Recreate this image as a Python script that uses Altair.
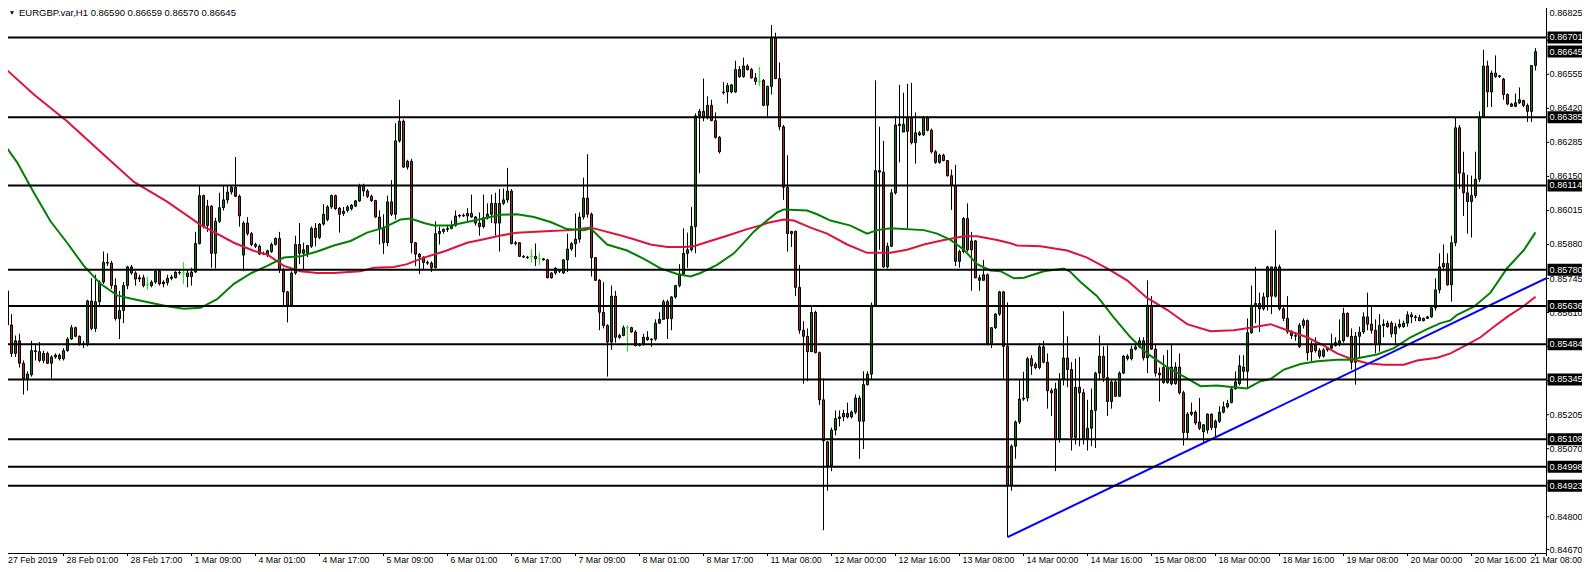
import altair as alt
import pandas as pd

# ---- data: hourly EURGBP candles, values in points (0.00001) above 0.80000 ----
open_pts = [
5788, 5696, 5561, 5448, 5498, 5409, 5349, 5363, 5459, 5455,
5420, 5448, 5409, 5434, 5441, 5427, 5459, 5505, 5550, 5516,
5486, 5483, 5656, 5547, 5653, 5731, 5809, 5806, 5717, 5586,
5618, 5717, 5791, 5767, 5743, 5748, 5721, 5717, 5731, 5774,
5724, 5729, 5746, 5748, 5767, 5767, 5767, 5753, 5771, 5884,
6074, 5955, 6032, 5845, 5972, 6026, 6057, 6088, 6107, 6071,
5838, 5965, 5923, 5880, 5873, 5842, 5838, 5852, 5880, 5904,
5781, 5692, 5639, 5767, 5880, 5845, 5845, 5873, 5944, 5908,
5961, 5979, 6029, 6074, 6024, 6003, 6015, 6022, 6032, 6053,
6111, 6092, 6071, 6054, 5989, 5944, 5887, 6049, 6000, 6291,
6369, 6187, 6210, 5887, 5842, 5830, 5809, 5806, 5788, 5923,
5932, 5940, 5944, 5955, 5993, 5996, 5993, 6003, 5989, 5965,
5951, 5986, 6000, 6043, 5965, 6043, 6057, 6092, 5884, 5887,
5833, 5830, 5833, 5833, 5823, 5823, 5819, 5767, 5767, 5776,
5767, 5819, 5862, 5883, 5901, 5989, 6064, 6000, 5828, 5738,
5611, 5559, 5493, 5675, 5512, 5519, 5550, 5550, 5533, 5479,
5483, 5512, 5502, 5505, 5568, 5583, 5653, 5586, 5672, 5717,
5763, 5845, 5859, 5951, 6390, 6408, 6383, 6432, 6371, 6305,
6482, 6485, 6485, 6485, 6574, 6546, 6588, 6574, 6541, 6527,
6531, 6432, 6507, 6701, 6538, 6347, 6107, 5923, 5932, 5710,
5540, 5516, 5455, 5611, 5451, 5264, 5097, 5002, 5144, 5190,
5196, 5210, 5196, 5215, 5271, 5179, 5324, 5366, 5639, 6173,
6167, 5791, 5873, 6085, 6352, 6326, 6329, 6383, 6284, 6323,
6315, 6383, 6333, 6248, 6206, 6234, 6213, 6153, 6114, 5813,
5852, 5983, 5859, 5894, 5748, 5738, 5760, 5483, 5550, 5604,
5692, 5476, 4924, 5080, 5176, 5267, 5271, 5427, 5406, 5392,
5474, 5413, 5300, 5307, 5108, 5346, 5430, 5384, 5115, 5314,
5292, 5111, 5151, 5222, 5370, 5437, 5352, 5257, 5335, 5278,
5370, 5427, 5427, 5465, 5474, 5498, 5431, 5639, 5465, 5370,
5392, 5332, 5394, 5328, 5394, 5292, 5134, 5207, 5215, 5176,
5137, 5144, 5207, 5154, 5179, 5215, 5236, 5253, 5307, 5328,
5394, 5377, 5530, 5639, 5646, 5625, 5672, 5791, 5675, 5791,
5625, 5587, 5533, 5519, 5476, 5559, 5578, 5479, 5483, 5459,
5437, 5462, 5469, 5479, 5488, 5498, 5607, 5516, 5413, 5516,
5533, 5593, 5564, 5540, 5483, 5559, 5554, 5568, 5526, 5554,
5554, 5568, 5601, 5593, 5590, 5578, 5587, 5593, 5629, 5700,
5791, 5805, 5720, 5887, 6343, 6163, 6085, 6050, 6074, 6139,
6386, 6588, 6485, 6560, 6546, 6536, 6475, 6437, 6428, 6442,
6451, 6432, 6408, 6590]

high_pts = [
5833, 5717, 5604, 5519, 5526, 5420, 5377, 5498, 5483, 5493,
5459, 5455, 5441, 5448, 5448, 5469, 5512, 5561, 5554, 5519,
5498, 5661, 5746, 5760, 5738, 5852, 5845, 5816, 5746, 5696,
5731, 5795, 5799, 5774, 5760, 5760, 5753, 5738, 5781, 5781,
5738, 5760, 5760, 5774, 5781, 5809, 5781, 5788, 5930, 6114,
6078, 6057, 6036, 5986, 6085, 6114, 6114, 6114, 6227, 6078,
5972, 5989, 5930, 5887, 5880, 5852, 5859, 5887, 5908, 5930,
5788, 5696, 5774, 5915, 5965, 5887, 5876, 5951, 5965, 5965,
6040, 6036, 6078, 6078, 6029, 6029, 6036, 6040, 6057, 6121,
6121, 6100, 6078, 6057, 6015, 6000, 6074, 6135, 6361, 6454,
6376, 6216, 6220, 5890, 5845, 5833, 5816, 5813, 5972, 5951,
5944, 5958, 5975, 6015, 6000, 6003, 6024, 6078, 5993, 6007,
6078, 6043, 6078, 6085, 6100, 6102, 6184, 6100, 5894, 5890,
5838, 5835, 5862, 5884, 5847, 5826, 5823, 5770, 5790, 5781,
5822, 5923, 5890, 6003, 6007, 6145, 6238, 6007, 5830, 5743,
5731, 5564, 5717, 5696, 5526, 5559, 5559, 5554, 5540, 5488,
5526, 5536, 5508, 5583, 5611, 5661, 5661, 5675, 5720, 5802,
5944, 5927, 6029, 6400, 6418, 6538, 6468, 6454, 6404, 6310,
6524, 6521, 6517, 6609, 6588, 6621, 6595, 6580, 6560, 6584,
6536, 6510, 6751, 6720, 6602, 6354, 6234, 5930, 5935, 5799,
5576, 5547, 5632, 5618, 5455, 5349, 5101, 5154, 5222, 5222,
5224, 5253, 5222, 5285, 5281, 5377, 5377, 5650, 6531, 6347,
6291, 5887, 6100, 6390, 6513, 6482, 6517, 6521, 6404, 6330,
6390, 6390, 6340, 6255, 6240, 6240, 6213, 6177, 6196, 5859,
5989, 6043, 5930, 5898, 5760, 5819, 5765, 5552, 5607, 5696,
5696, 5650, 5087, 5182, 5342, 5375, 5434, 5441, 5413, 5488,
5498, 5448, 5310, 5332, 5370, 5615, 5516, 5413, 5427, 5434,
5307, 5264, 5309, 5375, 5519, 5476, 5479, 5342, 5342, 5377,
5441, 5445, 5479, 5483, 5512, 5512, 5738, 5675, 5483, 5392,
5441, 5462, 5483, 5413, 5448, 5300, 5215, 5253, 5222, 5271,
5168, 5210, 5210, 5186, 5239, 5257, 5264, 5314, 5377, 5441,
5441, 5587, 5717, 5791, 5689, 5689, 5795, 5791, 5937, 5800,
5639, 5675, 5540, 5526, 5568, 5587, 5583, 5498, 5512, 5469,
5469, 5472, 5526, 5512, 5583, 5629, 5611, 5547, 5533, 5554,
5611, 5689, 5632, 5583, 5604, 5583, 5578, 5576, 5568, 5583,
5578, 5615, 5611, 5601, 5601, 5590, 5597, 5639, 5746, 5845,
5880, 5845, 5915, 6383, 6354, 6248, 6156, 6153, 6248, 6408,
6652, 6609, 6570, 6630, 6553, 6541, 6479, 6442, 6479, 6503,
6454, 6439, 6591, 6659]

low_pts = [
5696, 5559, 5434, 5434, 5392, 5285, 5300, 5356, 5420, 5413,
5409, 5406, 5349, 5427, 5420, 5420, 5455, 5502, 5512, 5479,
5469, 5476, 5540, 5533, 5632, 5724, 5795, 5703, 5578, 5505,
5568, 5703, 5760, 5717, 5731, 5710, 5700, 5710, 5724, 5717,
5710, 5717, 5738, 5746, 5760, 5724, 5710, 5717, 5767, 5880,
5944, 5930, 5788, 5785, 5965, 6015, 6043, 6078, 6068, 5951,
5774, 5915, 5873, 5866, 5838, 5838, 5830, 5847, 5876, 5767,
5635, 5571, 5632, 5760, 5802, 5781, 5830, 5866, 5873, 5901,
5955, 5972, 6022, 6017, 5927, 5993, 6007, 6015, 6029, 6049,
6071, 6064, 6049, 5986, 5880, 5842, 5873, 5993, 5979, 6284,
6184, 6177, 5845, 5795, 5763, 5781, 5799, 5771, 5785, 5880,
5923, 5930, 5940, 5951, 5986, 5989, 5972, 5986, 5955, 5915,
5944, 5979, 5965, 5915, 5852, 6036, 6046, 5880, 5876, 5830,
5826, 5823, 5809, 5795, 5799, 5816, 5746, 5745, 5760, 5767,
5763, 5771, 5855, 5830, 5887, 5979, 5986, 5753, 5736, 5540,
5547, 5356, 5462, 5491, 5505, 5516, 5455, 5530, 5476, 5476,
5479, 5498, 5474, 5498, 5564, 5583, 5505, 5540, 5665, 5710,
5757, 5788, 5852, 5845, 6163, 6369, 6376, 6369, 6300, 6241,
6475, 6439, 6480, 6482, 6541, 6541, 6570, 6538, 6513, 6510,
6428, 6386, 6475, 6536, 6333, 6057, 5852, 5870, 5675, 5526,
5328, 5338, 5455, 5448, 5243, 4747, 4903, 4981, 5123, 5158,
5179, 5190, 5190, 5207, 5030, 5069, 5321, 5346, 5632, 5859,
5788, 5785, 5870, 6078, 6206, 6326, 5944, 6277, 6201, 6310,
6310, 6329, 6241, 6200, 6200, 6210, 6149, 6017, 5795, 5788,
5845, 5852, 5696, 5746, 5696, 5736, 5480, 5469, 5545, 5597,
5349, 4719, 4903, 5030, 5168, 5260, 5257, 5363, 5385, 5385,
5409, 5229, 5200, 4981, 5094, 5321, 5314, 5063, 5087, 5080,
5087, 5063, 5080, 5073, 5342, 5335, 5200, 5229, 5275, 5275,
5366, 5420, 5420, 5460, 5469, 5420, 5370, 5462, 5356, 5257,
5328, 5328, 5321, 5324, 5285, 5083, 5111, 5200, 5165, 5144,
5094, 5130, 5144, 5115, 5172, 5210, 5230, 5250, 5304, 5321,
5342, 5309, 5526, 5568, 5533, 5618, 5618, 5604, 5670, 5618,
5576, 5526, 5505, 5498, 5469, 5547, 5420, 5417, 5451, 5427,
5431, 5455, 5465, 5475, 5476, 5491, 5512, 5384, 5324, 5434,
5526, 5540, 5526, 5448, 5455, 5512, 5550, 5512, 5488, 5547,
5550, 5554, 5568, 5576, 5576, 5575, 5585, 5590, 5618, 5686,
5774, 5717, 5653, 5873, 6100, 5993, 5923, 5908, 6064, 6128,
6383, 6425, 6425, 6541, 6541, 6454, 6432, 6425, 6425, 6437,
6425, 6366, 6366, 6570]

close_pts = [
5700, 5561, 5448, 5498, 5409, 5349, 5366, 5459, 5455, 5420,
5448, 5409, 5434, 5441, 5427, 5459, 5505, 5550, 5516, 5486,
5483, 5656, 5547, 5653, 5731, 5809, 5806, 5717, 5586, 5618,
5717, 5791, 5767, 5743, 5748, 5717, 5721, 5731, 5774, 5724,
5731, 5746, 5751, 5770, 5769, 5767, 5753, 5771, 5884, 6074,
5955, 6032, 5845, 5972, 6026, 6057, 6088, 6107, 6071, 5993,
5965, 5923, 5880, 5873, 5842, 5845, 5855, 5880, 5904, 5781,
5692, 5639, 5767, 5880, 5845, 5859, 5876, 5944, 5908, 5961,
6000, 6029, 6074, 6022, 6000, 6012, 6029, 6036, 6053, 6111,
6092, 6071, 6054, 5989, 5944, 5887, 6049, 6000, 6291, 6369,
6187, 6210, 5887, 5842, 5830, 5809, 5806, 5788, 5923, 5932,
5940, 5944, 5955, 5993, 5996, 5993, 6003, 5989, 5965, 5951,
5986, 6000, 6043, 5965, 6043, 6057, 6092, 5884, 5887, 5833,
5830, 5828, 5833, 5823, 5823, 5819, 5748, 5748, 5786, 5774,
5819, 5862, 5883, 5901, 5989, 6064, 6000, 5828, 5738, 5611,
5559, 5493, 5675, 5512, 5519, 5550, 5550, 5533, 5479, 5483,
5512, 5502, 5505, 5568, 5583, 5653, 5586, 5672, 5717, 5763,
5845, 5859, 5951, 6390, 6408, 6383, 6432, 6371, 6305, 6248,
6485, 6510, 6513, 6574, 6546, 6588, 6574, 6541, 6527, 6527,
6432, 6507, 6701, 6538, 6347, 6107, 5923, 5932, 5710, 5540,
5516, 5455, 5611, 5451, 5264, 5101, 5002, 5144, 5190, 5196,
5210, 5196, 5215, 5271, 5179, 5324, 5366, 5639, 6173, 6167,
5791, 5873, 6085, 6354, 6357, 6357, 6383, 6284, 6323, 6315,
6383, 6333, 6248, 6206, 6234, 6213, 6153, 6114, 5813, 5852,
5983, 5859, 5894, 5748, 5738, 5760, 5483, 5550, 5604, 5692,
5476, 4924, 5080, 5176, 5267, 5271, 5427, 5399, 5392, 5474,
5413, 5300, 5292, 5108, 5346, 5430, 5384, 5115, 5314, 5292,
5111, 5151, 5222, 5370, 5437, 5352, 5257, 5335, 5278, 5370,
5437, 5437, 5465, 5474, 5498, 5431, 5639, 5465, 5370, 5363,
5332, 5394, 5328, 5394, 5292, 5134, 5207, 5215, 5172, 5151,
5165, 5207, 5154, 5179, 5215, 5236, 5250, 5307, 5335, 5399,
5377, 5530, 5639, 5646, 5625, 5672, 5791, 5675, 5791, 5625,
5587, 5533, 5519, 5516, 5559, 5578, 5451, 5455, 5459, 5437,
5462, 5469, 5479, 5491, 5498, 5607, 5516, 5413, 5516, 5533,
5593, 5564, 5540, 5483, 5559, 5564, 5568, 5526, 5554, 5564,
5568, 5601, 5593, 5590, 5578, 5587, 5593, 5629, 5700, 5791,
5805, 5720, 5887, 6343, 6163, 6085, 6050, 6074, 6139, 6386,
6588, 6485, 6560, 6546, 6549, 6475, 6437, 6428, 6442, 6454,
6432, 6408, 6590, 6645]

# moving averages (bar position, points)
red_ma_bar = [-0.75, 7.6, 15.9, 24.25, 32.6, 40.9, 49.25, 57.6, 62.5, 66, 70.1, 74.25, 78.4, 82.6,
              89.25, 92.6, 97.6, 100.9, 105.1, 110.1, 115.9, 120.1, 124, 128.4, 136.75, 141.75, 146.75,
              149.25, 153.4, 157.6, 161.75, 165.9, 170.1, 172.6, 175.9, 180.9, 185.9, 189.25, 190.9, 195.1,
              197.6, 201.75, 205.9, 210.9, 215.9, 221.75, 225.9, 230.1, 235.1, 240.1, 243.4, 248.4, 251.75,
              253.4, 259.25, 265.9, 270.9, 275.9, 280.9, 285.9, 290.9, 295.9, 301.75, 307.6, 311.75, 316.75,
              320.9, 325.9, 330.1, 333.4, 336.75, 340.9, 345.1, 350.1, 353.4, 358.4, 361.75, 365.9, 369.25,
              372.6, 376, 380, 383]
red_ma_pts = [6595, 6475, 6369, 6248, 6128, 6050, 5958, 5887, 5855, 5840, 5795, 5774, 5767, 5767,
              5774, 5788, 5791, 5802, 5828, 5852, 5887, 5901, 5915, 5927, 5934, 5937, 5947,
              5937, 5920, 5901, 5880, 5870, 5870, 5873, 5890, 5915, 5941, 5955, 5965, 5979,
              5975, 5947, 5923, 5880, 5847, 5847, 5859, 5880, 5898, 5913, 5913, 5898, 5885,
              5876, 5873, 5856, 5828, 5785, 5738, 5668, 5621, 5564, 5536, 5540, 5550, 5564,
              5540, 5512, 5479, 5448, 5427, 5409, 5403, 5403, 5420, 5431, 5448, 5483, 5512,
              5554, 5594, 5635, 5673]
green_ma_bar = [-0.75, 3.4, 7.6, 11.75, 15.9, 20.1, 24.25, 28.4, 32.6, 36.75,
                40.9, 45.1, 49.25, 53.4, 57.6, 62, 65.9, 70.1, 74.25, 78.4,
                82.6, 86.75, 90.9, 95.1, 99.25, 101.75, 105.1, 107.6, 111.75, 115.9,
                120.1, 124.25, 128.4, 132.6, 136.75, 140.9, 145.1, 146.75, 150.9, 155.9,
                160.1, 164.25, 168.4, 171.75, 174.25, 178.4, 182.6, 185.9, 187.5, 190.1,
                193.4, 195.1, 200.9, 203.4, 206.75, 211.75, 215.9, 218.4, 221.75, 230.1,
                233.4, 236.75, 240.1, 243.4, 246.75, 249.25, 252.6, 255.1, 260.1, 265.1,
                266.75, 269.25, 273.4, 277.6, 281.75, 285.9, 290.9, 295.9, 299.25, 303.4,
                307.6, 310.9, 314.25, 316.75, 320.1, 324.25, 328.4, 333.4, 336.75, 340.1,
                343.4, 347.6, 351.75, 355.9, 359.25, 361.75, 363.4, 367.6, 371.75, 375.9,
                380.1, 383]
green_ma_pts = [6298, 6206, 6085, 5972, 5887, 5795, 5724, 5678, 5663, 5649,
                5635, 5625, 5629, 5663, 5724, 5767, 5795, 5828, 5833, 5852,
                5876, 5894, 5927, 5947, 5979, 5983, 5965, 5955, 5955, 5969,
                5983, 5998, 6000, 5989, 5969, 5941, 5937, 5944, 5880, 5856,
                5823, 5785, 5763, 5753, 5767, 5799, 5845, 5901, 5930, 5965,
                6007, 6019, 6015, 6000, 5975, 5955, 5923, 5937, 5944, 5937,
                5923, 5898, 5859, 5802, 5777, 5774, 5746, 5748, 5774, 5785,
                5771, 5731, 5675, 5590, 5512, 5448, 5394, 5349, 5318, 5321,
                5314, 5309, 5338, 5346, 5384, 5406, 5417, 5423, 5423, 5434,
                5444, 5469, 5512, 5544, 5568, 5579, 5601, 5633, 5689, 5786,
                5858, 5928]

trend_bar = [251, 385.75]
trend_price = [0.84719, 0.85747]

levels = [0.86701, 0.86385, 0.86114, 0.85780, 0.85636, 0.85484, 0.85345, 0.85108, 0.84998, 0.84923]
current_price = 0.86645
axis_prices = [0.86825, 0.86690, 0.86555, 0.86420, 0.86285, 0.86150, 0.86015, 0.85880, 0.85745,
               0.85610, 0.85475, 0.85340, 0.85205, 0.85070, 0.84935, 0.84800, 0.84670]

time_labels = ["27 Feb 2019", "28 Feb 01:00", "28 Feb 17:00", "1 Mar 09:00", "4 Mar 01:00",
               "4 Mar 17:00", "5 Mar 09:00", "6 Mar 01:00", "6 Mar 17:00", "7 Mar 09:00",
               "8 Mar 01:00", "8 Mar 17:00", "11 Mar 08:00", "12 Mar 00:00", "12 Mar 16:00",
               "13 Mar 08:00", "14 Mar 00:00", "14 Mar 16:00", "15 Mar 08:00", "18 Mar 00:00",
               "18 Mar 16:00", "19 Mar 08:00", "20 Mar 00:00", "20 Mar 16:00", "21 Mar 08:00"]
time_bars = [-1, 15, 31, 47, 63, 79, 95, 111, 127, 143, 159, 175, 191, 207, 223,
             239, 255, 271, 287, 303, 319, 335, 351, 367, 383]

symbol = "EURGBP.var,H1"

# ---- build tables ----
def price(v):
    return round(0.8 + v / 100000.0, 5)

n = min(len(open_pts), len(high_pts), len(low_pts), len(close_pts))
c = pd.DataFrame({
    "bar": list(range(n)),
    "open": [price(v) for v in open_pts[:n]],
    "high": [price(v) for v in high_pts[:n]],
    "low": [price(v) for v in low_pts[:n]],
    "close": [price(v) for v in close_pts[:n]],
})
c["top"] = c[["open", "close"]].max(axis=1)
c["bot"] = c[["open", "close"]].min(axis=1)
c["whi"] = c[["high", "top"]].max(axis=1)
c["wlo"] = c[["low", "bot"]].min(axis=1)
c["kind"] = ["up" if cl > op else ("down" if cl < op else "doji") for op, cl in zip(c["open"], c["close"])]
c["bl"] = c["bar"] - 0.375
c["br"] = c["bar"] + 0.375

bodies = c[c["kind"] != "doji"]
dojis = c[c["kind"] == "doji"]

red_df = pd.DataFrame({"bar": red_ma_bar, "p": [price(v) for v in red_ma_pts]})
green_df = pd.DataFrame({"bar": green_ma_bar, "p": [price(v) for v in green_ma_pts]})
trend_df = pd.DataFrame({"bar": trend_bar, "p": trend_price})
lev_df = pd.DataFrame({"p": levels + [current_price],
                       "t": [f"{v:.5f}" for v in levels + [current_price]]})
ax_df = pd.DataFrame({"p": axis_prices, "t": [f"{v:.5f}" for v in axis_prices]})
time_df = pd.DataFrame({"bar": time_bars, "t": time_labels})
one = pd.DataFrame({"a": [0]})
hdr = pd.DataFrame({"t": [f"{symbol}  {price(open_pts[-1]):.5f} {price(high_pts[-1]):.5f} "
                          f"{price(low_pts[-1]):.5f} {price(close_pts[-1]):.5f}"]})

# ---- scales: plot area sits at page x 8..1546, y 8..553 ----
W, H = 1538, 545
PAD_R, PAD_B = 36, 11
xs = alt.Scale(domain=[1.125, 385.625], nice=False, zero=False, padding=0)
ys = alt.Scale(domain=[0.846564, 0.86818], nice=False, zero=False, padding=0)
X = lambda f: alt.X(f, type="quantitative", scale=xs, axis=None)
Y = lambda f: alt.Y(f, type="quantitative", scale=ys, axis=None)
FONT = "Liberation Sans"

wicks = alt.Chart(c).mark_rule(strokeWidth=1, clip=True).encode(
    x=X("bar"), y=Y("wlo"), y2="whi:Q",
    color=alt.Color("kind:N", scale=alt.Scale(domain=["up", "down", "doji"],
                                               range=["#000000", "#000000", "#00FF00"]), legend=None))
body = alt.Chart(bodies).mark_bar(size=2, stroke="#000000", strokeWidth=1, clip=True).encode(
    x=X("bar"), y=Y("top"), y2="bot:Q",
    fill=alt.Fill("kind:N", scale=alt.Scale(domain=["up", "down"], range=["#008000", "#A52A2A"]), legend=None))
doji_l = alt.Chart(dojis).mark_rule(strokeWidth=1, color="#00FF00", clip=True).encode(
    x=X("bl"), x2="br:Q", y=Y("open"))

red_line = alt.Chart(red_df).mark_line(color="#DC143C", strokeWidth=2, clip=True).encode(x=X("bar"), y=Y("p"))
green_line = alt.Chart(green_df).mark_line(color="#008000", strokeWidth=2, clip=True).encode(x=X("bar"), y=Y("p"))
trend_line = alt.Chart(trend_df).mark_line(color="#0000FF", strokeWidth=2, clip=True).encode(x=X("bar"), y=Y("p"))

level_lines = alt.Chart(lev_df.iloc[:-1]).mark_rule(color="#000000", strokeWidth=2).encode(
    y=Y("p"), x=alt.value(0), x2=alt.value(W))

right_border = alt.Chart(one).mark_rule(color="#000000", strokeWidth=1).encode(
    x=alt.value(W + 0.5), y=alt.value(0), y2=alt.value(H + 3))
bottom_border = alt.Chart(one).mark_rule(color="#000000", strokeWidth=1).encode(
    y=alt.value(H + 0.5), x=alt.value(0), x2=alt.value(W + 0.5))

ax_ticks = alt.Chart(ax_df).mark_rule(color="#000000", strokeWidth=1).encode(
    y=Y("p"), x=alt.value(W), x2=alt.value(W + 3))
# the topmost scale label is nudged down so that it stays inside the picture
ax_text = alt.Chart(ax_df.iloc[1:]).mark_text(align="left", baseline="middle", font=FONT, fontSize=9.2,
                                              color="#000000").encode(y=Y("p"), x=alt.value(W + 3.5), text="t:N")
ax_top = alt.Chart(ax_df.iloc[:1]).mark_text(align="left", baseline="middle", font=FONT, fontSize=9.2,
                                             color="#000000").encode(y=alt.value(5), x=alt.value(W + 3.5), text="t:N")
boxes = alt.Chart(lev_df).mark_rect(color="#000000", yOffset=-6, y2Offset=6).encode(
    y=Y("p"), y2="p:Q", x=alt.value(W + 1.5), x2=alt.value(W + PAD_R))
box_text = alt.Chart(lev_df).mark_text(align="left", baseline="middle", font=FONT, fontSize=9.2,
                                       color="#FFFFFF").encode(y=Y("p"), x=alt.value(W + 3.5), text="t:N")

t_ticks = alt.Chart(time_df).mark_rule(color="#000000", strokeWidth=1).encode(
    x=X("bar"), y=alt.value(H), y2=alt.value(H + 3))
TY = H + 7
t_mid = alt.Chart(time_df.iloc[1:-1]).mark_text(align="left", baseline="middle", font=FONT, fontSize=8.8,
                                                dx=3, color="#000000").encode(x=X("bar"), y=alt.value(TY), text="t:N")
t_first = alt.Chart(time_df.iloc[:1]).mark_text(align="left", baseline="middle", font=FONT, fontSize=8.8,
                                                color="#000000").encode(x=alt.value(0), y=alt.value(TY), text="t:N")
t_last = alt.Chart(time_df.iloc[-1:]).mark_text(align="right", baseline="middle", font=FONT, fontSize=8.8,
                                                color="#000000").encode(x=alt.value(W + PAD_R), y=alt.value(TY), text="t:N")

hdr_tri = alt.Chart(one).mark_point(shape="triangle-down", filled=True, size=16, color="#000000",
                                    opacity=1).encode(x=alt.value(4), y=alt.value(5))
hdr_text = alt.Chart(hdr).mark_text(align="left", baseline="middle", font=FONT, fontSize=9.5,
                                    color="#000000").encode(x=alt.value(11), y=alt.value(5), text="t:N")

chart = alt.layer(
    wicks, body, doji_l, red_line, green_line, trend_line, level_lines,
    right_border, bottom_border, ax_ticks, ax_text, ax_top, boxes, box_text,
    t_ticks, t_mid, t_first, t_last, hdr_tri, hdr_text
).properties(
    width=W, height=H, autosize="none",
    padding={"left": 0, "top": 0, "right": PAD_R, "bottom": PAD_B},
    background="#FFFFFF"
).configure_view(strokeWidth=0)

chart.save("out.html", embed_options={"renderer": "svg", "actions": False})
